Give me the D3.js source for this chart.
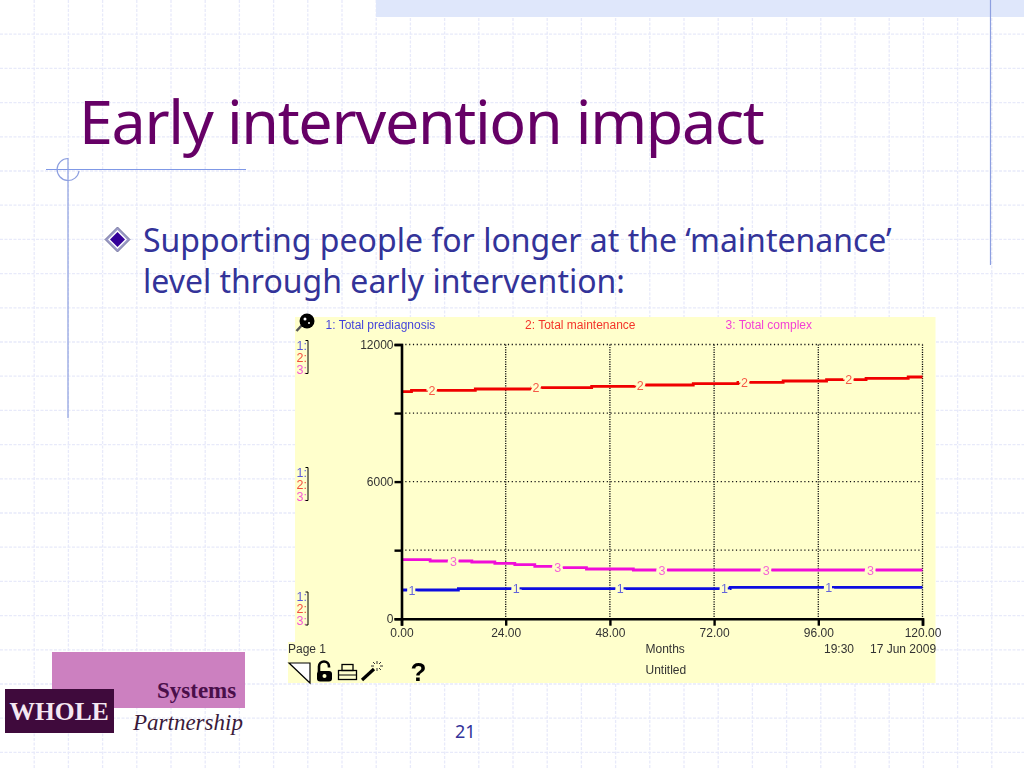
<!DOCTYPE html>
<html><head><meta charset="utf-8">
<script src="https://cdn.jsdelivr.net/npm/d3@7"></script>
<style>html,body{margin:0;padding:0;background:#fff}svg{display:block}</style>
</head><body><div id="c"></div>
<script>
const titleText = "Early intervention impact";
const bulletLines = ["Supporting people for longer at the ‘maintenance’", "level through early intervention:"];
const seriesNames = ["1: Total prediagnosis", "2: Total maintenance", "3: Total complex"];
const seriesColors = ["#1010e0", "#f00000", "#f010d8"];
const xTicks = [0, 24, 48, 72, 96, 120];
const yTicks = [0, 3000, 6000, 9000, 12000];
const yLabelled = [0, 6000, 12000];

const months1 = [0, 13.1, 75.7, 120];
const values1 = [1256, 1313, 1374, 1374];
const months2 = [0, 2.3, 17, 30, 43.8, 55, 67.2, 77.5, 87.9, 97.9, 107, 116.7, 120];
const values2 = [9936, 9994, 10052, 10110, 10169, 10227, 10286, 10344, 10402, 10460, 10519, 10577, 10577];
const months3 = [0, 6.6, 16.2, 21.5, 26.1, 30.7, 35, 42.6, 53.4, 120];
const values3 = [2582, 2525, 2481, 2424, 2363, 2293, 2232, 2175, 2131, 2131];
const labelMonths1 = [2.4, 26.4, 50.4, 74.4, 98.4];
const labelMonths2 = [7, 31, 55, 79, 103];
const labelMonths3 = [12, 36, 60, 84, 108];

const svg = d3.select("#c").append("svg").attr("width",1024).attr("height",768);
const defs = svg.append("defs");
defs.append("filter").attr("id","soft").append("feGaussianBlur").attr("stdDeviation",0.35);

// slide background grid
const gridStep = 34.2;
const bg = svg.append("g").attr("stroke","#e8eafa").attr("stroke-width",1.3).attr("stroke-dasharray","3 1.5");
d3.range(1,30).forEach(i=>bg.append("line").attr("x1",i*gridStep).attr("x2",i*gridStep).attr("y1",0).attr("y2",768));
d3.range(1,23).forEach(i=>bg.append("line").attr("y1",i*gridStep).attr("y2",i*gridStep).attr("x1",0).attr("x2",1024));
svg.append("rect").attr("x",376).attr("y",0).attr("width",648).attr("height",17).attr("fill","#dfe7fb");
// master guides
const guide = svg.append("g").attr("fill","none").attr("stroke","#8d9fe0").attr("stroke-width",1.2);
guide.append("line").attr("x1",46).attr("x2",246).attr("y1",169.5).attr("y2",169.5).attr("stroke","#7f98e6");
guide.append("line").attr("x1",68).attr("x2",68).attr("y1",158).attr("y2",418);
guide.append("path").attr("d","M68,158.5A11,11 0 1 0 79,171");
guide.append("line").attr("x1",990.5).attr("x2",990.5).attr("y1",0).attr("y2",265);

// title and bullet
svg.append("text").attr("x",79).attr("y",144).attr("fill","#660066")
  .attr("font-family","'Noto Sans'").attr("font-size",61).attr("letter-spacing",-1.35).text(titleText);
const dia = svg.append("g").attr("transform","translate(117.5,239.5)");
dia.append("path").attr("d","M0,-12.5L12.5,0L0,12.5L-12.5,0Z").attr("fill","#9a9ac8").attr("stroke","#77779f").attr("stroke-width",1);
dia.append("path").attr("d","M0,-9.5L9.5,0L0,9.5L-9.5,0Z").attr("fill","#fff");
dia.append("path").attr("d","M0,-7.5L7.5,0L0,7.5L-7.5,0Z").attr("fill","#330099");
bulletLines.forEach((t,i)=>svg.append("text").attr("x",143).attr("y",252+i*41).attr("fill","#333399")
  .attr("font-family","'Noto Sans'").attr("font-size",32).text(t));
svg.append("text").attr("x",455).attr("y",738).attr("fill","#333399")
  .attr("font-family","'Noto Sans'").attr("font-size",18).text("21");

// logo
svg.append("rect").attr("x",52).attr("y",652).attr("width",193).attr("height",56).attr("fill","#cc80c0");
svg.append("rect").attr("x",5).attr("y",689).attr("width",109).attr("height",44).attr("fill","#3f0a3c");
svg.append("text").attr("x",9.5).attr("y",720).attr("fill","#f4e8f2").attr("font-family","'Liberation Serif'").attr("font-weight","bold").attr("font-size",25.5).text("WHOLE");
svg.append("text").attr("x",157).attr("y",698).attr("fill","#4a0f4a").attr("font-family","'Liberation Serif'").attr("font-weight","bold").attr("font-size",23).text("Systems");
svg.append("text").attr("x",133).attr("y",730).attr("fill","#3a1a3a").attr("font-family","'Liberation Serif'").attr("font-style","italic").attr("font-size",23).text("Partnership");

// chart panel
const panel = svg.append("g").attr("filter","url(#soft)").attr("font-family","'Liberation Sans'");
panel.append("path").attr("d","M295,317H935.5V683H288V642H295Z").attr("fill","#ffffcc");

const x = d3.scaleLinear().domain([0,120]).range([401.5,922.5]);
const y = d3.scaleLinear().domain([0,12000]).range([618.7,344.5]);

// dotted grid
const grid = panel.append("g").attr("stroke","#111").attr("stroke-width",1.3).attr("stroke-dasharray","1.2 2.6");
yTicks.filter(v=>v>0).forEach(v=>grid.append("line").attr("x1",x(0)).attr("x2",x(120)).attr("y1",y(v)).attr("y2",y(v)));
xTicks.filter(v=>v>0).forEach(v=>grid.append("line").attr("x1",x(v)).attr("x2",x(v)).attr("y1",y(12000)).attr("y2",y(0)).attr("stroke-dasharray","1.2 1.2"));

// series
const series = [
  {m:months1,v:values1,l:labelMonths1,n:"1"},
  {m:months2,v:values2,l:labelMonths2,n:"2"},
  {m:months3,v:values3,l:labelMonths3,n:"3"}];
const line = d3.line().x(d=>x(d[0])).y(d=>y(d[1])).curve(d3.curveStepAfter);
series.forEach((s,i)=>{
  panel.append("path").attr("d",line(d3.zip(s.m,s.v))).attr("fill","none").attr("stroke",seriesColors[i]).attr("stroke-width",2.8);
});
series.forEach((s,i)=>{
  const pts = d3.zip(s.m,s.v);
  s.l.forEach(lm=>{
    const val = pts[d3.bisectRight(s.m,lm)-1][1];
    panel.append("text").attr("x",x(lm)).attr("y",y(val)+4.5).attr("text-anchor","middle")
      .attr("font-size",12.5).attr("fill",seriesColors[i]).attr("fill-opacity",.65)
      .attr("paint-order","stroke").attr("stroke","#ffffcc").attr("stroke-width",5).text(s.n);
  });
});

// axes
const yAxis = d3.axisLeft(y).tickValues(yTicks).tickSize(7).tickPadding(1)
  .tickFormat(v=>yLabelled.includes(v)?String(v):"");
const xAxis = d3.axisBottom(x).tickValues(xTicks).tickSize(7).tickPadding(2.5)
  .tickFormat(d3.format(".2f"));
const gy = panel.append("g").attr("transform",`translate(${x(0)},0)`).call(yAxis);
const gx = panel.append("g").attr("transform",`translate(0,${y(0)})`).call(xAxis);
[gy,gx].forEach(g=>{
  g.select(".domain").attr("stroke","#000").attr("stroke-width",2.6);
  g.selectAll(".tick line").attr("stroke","#000").attr("stroke-width",2.4);
  g.selectAll(".tick text").attr("font-family","'Liberation Sans'").attr("font-size",12).attr("fill","#333");
});

// legend
const legendX = [325.5, 525, 725.5];
seriesNames.forEach((t,i)=>panel.append("text").attr("x",legendX[i]).attr("y",329).attr("font-size",12).attr("fill",seriesColors[i]).attr("fill-opacity",.8).text(t));

// left scale keys
const keyTops = [349.5, 476.5, 601];
keyTops.forEach(t=>{
  ["1:","2:","3:"].forEach((k,i)=>panel.append("text").attr("x",296.5).attr("y",t+i*12).attr("font-size",12.5).attr("fill",seriesColors[i]).attr("fill-opacity",.7).text(k));
  panel.append("path").attr("d",`M305.5,${t-9}h2.5v${33}h-2.5`).attr("fill","none").attr("stroke","#000").attr("stroke-width",1);
});

// footer text
const foot = panel.append("g").attr("font-size",12).attr("fill","#333");
foot.append("text").attr("x",288).attr("y",653).text("Page 1");
foot.append("text").attr("x",645.5).attr("y",653).text("Months");
foot.append("text").attr("x",645.5).attr("y",674).text("Untitled");
foot.append("text").attr("x",824).attr("y",653).text("19:30");
foot.append("text").attr("x",870).attr("y",653).text("17 Jun 2009");

// toolbar icons
const icons = panel.append("g");
icons.append("path").attr("d","M289,663H310V683Z").attr("fill","#fff").attr("stroke","#000").attr("stroke-width",1.2);
icons.append("path").attr("d","M319,672v-5.5a5,5 0 0 1 10,0v1").attr("fill","none").attr("stroke","#000").attr("stroke-width",2.6);
icons.append("rect").attr("x",317).attr("y",671).attr("width",15).attr("height",10.5).attr("rx",3).attr("fill","#000");
icons.append("circle").attr("cx",324.5).attr("cy",676).attr("r",2).attr("fill","#ffffcc");
icons.append("rect").attr("x",338.5).attr("y",670.5).attr("width",18).attr("height",9).attr("fill","none").attr("stroke","#000").attr("stroke-width",1.3);
icons.append("rect").attr("x",342).attr("y",664.5).attr("width",11).attr("height",6).attr("fill","none").attr("stroke","#000").attr("stroke-width",1.3);
icons.append("line").attr("x1",339).attr("x2",356).attr("y1",675).attr("y2",675).attr("stroke","#000");
icons.append("line").attr("x1",362).attr("y1",680).attr("x2",374).attr("y2",669).attr("stroke","#000").attr("stroke-width",3.2);
icons.append("path").attr("d","M377,661v3M377,668v3M371,666h3M380,666h3M373,662l2,2M381,662l-2,2M381,670l-2,-2").attr("stroke","#333").attr("stroke-width",1);
icons.append("text").attr("x",410.5).attr("y",681).attr("font-size",26).attr("font-weight","bold").attr("fill","#000").text("?");
// magnifier
const mag = icons.append("g");
mag.append("line").attr("x1",296.5).attr("y1",331).attr("x2",303).attr("y2",324).attr("stroke","#555").attr("stroke-width",2.5);
mag.append("circle").attr("cx",307).attr("cy",321).attr("r",7.5).attr("fill","#000");
mag.append("circle").attr("cx",305).attr("cy",319).attr("r",1.5).attr("fill","#fff");
mag.append("circle").attr("cx",309).attr("cy",323).attr("r",1).attr("fill","#fff");
</script></body></html>
